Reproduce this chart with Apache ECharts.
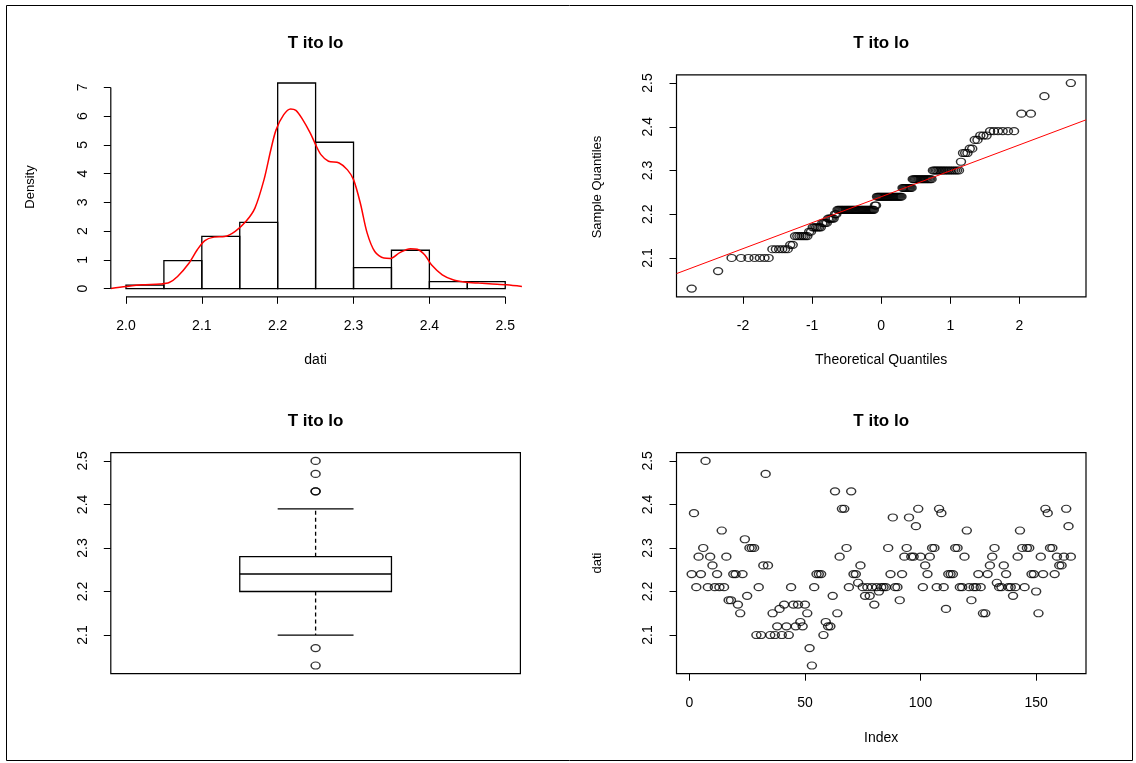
<!DOCTYPE html>
<html>
<head>
<meta charset="utf-8">
<script src="https://cdn.jsdelivr.net/npm/echarts@6/dist/echarts.min.js"></script>
<style>
  html, body { margin: 0; padding: 0; background: #fff; }
  #chart { width: 1136px; height: 763px; }
</style>
</head>
<body>
<div id="chart"></div>
<script>
// data (order = index 1..165)
var dati = [
  2.24, 2.38, 2.21, 2.28, 2.24, 2.30, 2.50, 2.21, 2.28, 2.26,
  2.21, 2.24, 2.21, 2.34, 2.21, 2.28, 2.18, 2.18, 2.24, 2.24,
  2.17, 2.15, 2.24, 2.32, 2.19, 2.30, 2.30, 2.30, 2.10, 2.21,
  2.10, 2.26, 2.47, 2.26, 2.10, 2.15, 2.10, 2.12, 2.16, 2.10,
  2.17, 2.12, 2.10, 2.21, 2.17, 2.12, 2.17, 2.13, 2.12, 2.17,
  2.15, 2.07, 2.03, 2.21, 2.24, 2.24, 2.24, 2.10, 2.13, 2.12,
  2.12, 2.19, 2.43, 2.15, 2.28, 2.39, 2.39, 2.30, 2.21, 2.43,
  2.24, 2.24, 2.22, 2.26, 2.21, 2.19, 2.21, 2.19, 2.21, 2.17,
  2.21, 2.20, 2.21, 2.21, 2.21, 2.30, 2.24, 2.37, 2.21, 2.21,
  2.18, 2.24, 2.28, 2.30, 2.37, 2.28, 2.28, 2.35, 2.39, 2.28,
  2.21, 2.26, 2.24, 2.28, 2.30, 2.30, 2.21, 2.39, 2.38, 2.21,
  2.16, 2.24, 2.24, 2.24, 2.30, 2.30, 2.21, 2.21, 2.28, 2.34,
  2.21, 2.18, 2.21, 2.21, 2.24, 2.21, 2.15, 2.15, 2.24, 2.26,
  2.28, 2.30, 2.22, 2.21, 2.21, 2.26, 2.24, 2.21, 2.21, 2.19,
  2.21, 2.28, 2.34, 2.30, 2.21, 2.30, 2.30, 2.24, 2.24, 2.20,
  2.15, 2.28, 2.24, 2.39, 2.38, 2.30, 2.30, 2.24, 2.28, 2.26,
  2.26, 2.28, 2.39, 2.35, 2.28
];

// histogram breaks
var histBreaks = [2.00, 2.05, 2.10, 2.15, 2.20, 2.25, 2.30, 2.35, 2.40, 2.45, 2.50];

// red density curve
var densX = [1.980, 2.000, 2.021, 2.045, 2.057, 2.068, 2.083, 2.094, 2.104, 2.116,
             2.130, 2.144, 2.158, 2.170, 2.182, 2.191, 2.198, 2.208, 2.217, 2.224,
             2.233, 2.243, 2.250, 2.257, 2.267, 2.281, 2.292, 2.300, 2.309, 2.318,
             2.328, 2.340, 2.349, 2.361, 2.375, 2.384, 2.394, 2.403, 2.417, 2.432,
             2.446, 2.465, 2.483, 2.502, 2.522];
var densY = [0.00, 0.07, 0.13, 0.16, 0.21, 0.42, 0.88, 1.35, 1.67, 1.79,
             1.81, 1.99, 2.33, 2.80, 3.79, 4.83, 5.53, 6.05, 6.25, 6.20,
             5.88, 5.41, 5.01, 4.66, 4.43, 4.37, 4.13, 3.79, 2.97, 1.93,
             1.29, 1.06, 1.05, 1.25, 1.39, 1.37, 1.17, 0.82, 0.48, 0.30,
             0.23, 0.19, 0.16, 0.13, 0.07];

// tick labels
var histXTicks = [2.0, 2.1, 2.2, 2.3, 2.4, 2.5];
var histYTicks = [0, 1, 2, 3, 4, 5, 6, 7];
var qqXTicks = [-2, -1, 0, 1, 2];
var datiTicks = [2.1, 2.2, 2.3, 2.4, 2.5];
var indexTicks = [0, 50, 100, 150];

var FONT = '"Liberation Sans", Arial, Helvetica, sans-serif';

// ---- helpers ---------------------------------------------------
function qnorm(p) {
  var a = [-3.969683028665376e+01, 2.209460984245205e+02, -2.759285104469687e+02,
           1.383577518672690e+02, -3.066479806614716e+01, 2.506628277459239e+00];
  var b = [-5.447609879822406e+01, 1.615858368580409e+02, -1.556989798598866e+02,
           6.680131188771972e+01, -1.328068155288572e+01];
  var c = [-7.784894002430293e-03, -3.223964580411365e-01, -2.400758277161838e+00,
           -2.549732539343734e+00, 4.374664141464968e+00, 2.938163982698783e+00];
  var d = [7.784695709041462e-03, 3.224671290700398e-01, 2.445134137142996e+00,
           3.754408661907416e+00];
  var plow = 0.02425, q, r;
  if (p < plow) {
    q = Math.sqrt(-2 * Math.log(p));
    return (((((c[0]*q+c[1])*q+c[2])*q+c[3])*q+c[4])*q+c[5]) /
           ((((d[0]*q+d[1])*q+d[2])*q+d[3])*q+1);
  }
  if (p > 1 - plow) {
    q = Math.sqrt(-2 * Math.log(1 - p));
    return -(((((c[0]*q+c[1])*q+c[2])*q+c[3])*q+c[4])*q+c[5]) /
            ((((d[0]*q+d[1])*q+d[2])*q+d[3])*q+1);
  }
  q = p - 0.5; r = q * q;
  return (((((a[0]*r+a[1])*r+a[2])*r+a[3])*r+a[4])*r+a[5])*q /
         (((((b[0]*r+b[1])*r+b[2])*r+b[3])*r+b[4])*r+1);
}

// R style quantile (type 7) on sorted data
function quant(s, p) {
  var h = (s.length - 1) * p, lo = Math.floor(h);
  return s[lo] + (h - lo) * ((s[Math.min(lo + 1, s.length - 1)]) - s[lo]);
}

var n = dati.length;
var sorted = dati.slice().sort(function (x, y) { return x - y; });

// histogram (right-closed bins, like hist())
var counts = histBreaks.slice(1).map(function () { return 0; });
dati.forEach(function (v) {
  var c = Math.round(v * 100);
  for (var k = 0; k < counts.length; k++) {
    var lo = Math.round(histBreaks[k] * 100), hi = Math.round(histBreaks[k + 1] * 100);
    if ((c > lo || (k === 0 && c === lo)) && c <= hi) { counts[k]++; break; }
  }
});
var binW = histBreaks[1] - histBreaks[0];
var histData = counts.map(function (cnt, k) {
  return [histBreaks[k], histBreaks[k + 1], cnt / (n * binW)];
});
var maxDens = Math.max.apply(null, histData.map(function (r) { return r[2]; }));

// axis limits with R's 4% extension
function ext(lo, hi) { var p = (hi - lo) * 0.04; return [lo - p, hi + p]; }
var hxLim = ext(histBreaks[0], histBreaks[histBreaks.length - 1]);
var hyLim = ext(0, maxDens);
var dLim = ext(sorted[0], sorted[n - 1]);
var iLim = ext(1, n);

// QQ
var qqData = sorted.map(function (v, i) { return [qnorm((i + 1 - 0.5) / n), v]; });
var qMax = Math.abs(qqData[0][0]);
var qLim = ext(-qMax, qMax);
var y1 = quant(sorted, 0.25), y3 = quant(sorted, 0.75);
var slope = (y3 - y1) / (qnorm(0.75) - qnorm(0.25));
var icpt = y1 - slope * qnorm(0.25);
var qqLine = [[qLim[0], icpt + slope * qLim[0]], [qLim[1], icpt + slope * qLim[1]]];

// boxplot stats (fivenum hinges, 1.5 IQR)
function fivenum(s) {
  var m = s.length, n4 = Math.floor((m + 3) / 2) / 2;
  var dd = [1, n4, (m + 1) / 2, m + 1 - n4, m];
  return dd.map(function (t) { return 0.5 * (s[Math.floor(t) - 1] + s[Math.ceil(t) - 1]); });
}
var fn = fivenum(sorted);
var iqr = fn[3] - fn[1];
var inside = sorted.filter(function (v) { return v >= fn[1] - 1.5 * iqr - 1e-9 && v <= fn[3] + 1.5 * iqr + 1e-9; });
var boxRow = [1, inside[0], fn[1], fn[2], fn[3], inside[inside.length - 1]];
var outliers = sorted.filter(function (v) { return inside.indexOf(v) < 0; }).map(function (v) { return [1, v]; });

var indexData = dati.map(function (v, i) { return [i + 1, v]; });

// ---- chart -----------------------------------------------------
function xAx(gi, lim, ticks, fmt) {
  return {
    type: 'value', gridIndex: gi, min: lim[0], max: lim[1], position: 'bottom',
    axisLine: { show: false, onZero: false },
    axisTick: { show: true, length: 7, customValues: ticks, lineStyle: { color: '#000', width: 1 } },
    axisLabel: { customValues: ticks, formatter: fmt, color: '#000', fontSize: 14, fontFamily: FONT, margin: 22 },
    splitLine: { show: false }
  };
}
function yAx(gi, lim, ticks, fmt) {
  return {
    type: 'value', gridIndex: gi, min: lim[0], max: lim[1], position: 'left',
    axisLine: { show: false, onZero: false },
    axisTick: { show: true, length: 7, customValues: ticks, lineStyle: { color: '#000', width: 1 } },
    axisLabel: { customValues: ticks, formatter: fmt, rotate: 90, color: '#000', fontSize: 14, fontFamily: FONT, margin: 21 },
    splitLine: { show: false }
  };
}
function f1(v) { return Number(v).toFixed(1); }
function f0(v) { return String(Math.round(v)); }

function label(text, x, y, opts) {
  opts = opts || {};
  return {
    type: 'text', x: x, y: y, rotation: opts.rot || 0, silent: true,
    style: {
      text: text, fill: '#000', fontFamily: FONT,
      fontSize: opts.size || 13, fontWeight: opts.bold ? 'bold' : 'normal',
      align: 'center', verticalAlign: 'middle', textAlign: 'center', textVerticalAlign: 'middle'
    }
  };
}

var circle = { color: 'rgba(0,0,0,0)', borderColor: '#000', borderWidth: 1.3 };
var box = { show: true, borderColor: '#000', borderWidth: 1.2, backgroundColor: 'transparent' };

var option = {
  animation: false,
  backgroundColor: '#fff',
  grid: [
    { left: 110.8, top: 74.8, width: 409.6, height: 222 },
    Object.assign({ left: 676.5, top: 74.8, width: 409.5, height: 222 }, box),
    Object.assign({ left: 110.8, top: 452.7, width: 409.6, height: 221 }, box),
    Object.assign({ left: 676.5, top: 452.7, width: 409.5, height: 221 }, box)
  ],
  xAxis: [
    xAx(0, hxLim, histXTicks, f1),
    xAx(1, qLim, qqXTicks, f0),
    { type: 'value', gridIndex: 2, min: 0.46, max: 1.54, show: false },
    xAx(3, iLim, indexTicks, f0)
  ],
  yAxis: [
    yAx(0, hyLim, histYTicks, f0),
    yAx(1, dLim, datiTicks, f1),
    yAx(2, dLim, datiTicks, f1),
    yAx(3, dLim, datiTicks, f1)
  ],
  graphic: [
    { type: 'rect', silent: true, shape: { x: 6.5, y: 5.5, width: 1126, height: 755 },
      style: { fill: 'none', stroke: '#000', lineWidth: 1 } },
    label('T ito lo', 315.6, 43, { bold: true, size: 17 }),
    label('T ito lo', 881.2, 43, { bold: true, size: 17 }),
    label('T ito lo', 315.6, 421, { bold: true, size: 17 }),
    label('T ito lo', 881.2, 421, { bold: true, size: 17 }),
    label('Density', 30, 187, { rot: Math.PI / 2 }),
    label('dati', 315.6, 360, { size: 14 }),
    label('Sample Quantiles', 597, 187, { rot: Math.PI / 2 }),
    label('Theoretical Quantiles', 881.2, 360, { size: 14 }),
    label('dati', 597, 563, { rot: Math.PI / 2 }),
    label('Index', 881.2, 738, { size: 14 })
  ],
  series: [
    {
      type: 'custom', xAxisIndex: 0, yAxisIndex: 0, data: histData, silent: true,
      renderItem: function (params, api) {
        var p0 = api.coord([api.value(0), api.value(2)]);
        var p1 = api.coord([api.value(1), 0]);
        return { type: 'rect', shape: { x: p0[0], y: p0[1], width: p1[0] - p0[0], height: p1[1] - p0[1] },
                 style: { fill: 'none', stroke: '#000', lineWidth: 1.3 } };
      }
    },
    {
      type: 'line', xAxisIndex: 0, yAxisIndex: 0, silent: true, showSymbol: false, smooth: 0.3,
      data: densX.map(function (x, i) { return [x, densY[i]]; }),
      lineStyle: { color: '#ff0000', width: 1.5 }
    },
    { // R-style axis lines of the histogram (span first..last tick)
      type: 'line', xAxisIndex: 0, yAxisIndex: 0, silent: true, showSymbol: false, clip: false,
      data: [[histXTicks[0], hyLim[0]], [histXTicks[histXTicks.length - 1], hyLim[0]]],
      lineStyle: { color: '#000', width: 1.2 }
    },
    {
      type: 'line', xAxisIndex: 0, yAxisIndex: 0, silent: true, showSymbol: false, clip: false,
      data: [[hxLim[0], histYTicks[0]], [hxLim[0], histYTicks[histYTicks.length - 1]]],
      lineStyle: { color: '#000', width: 1.2 }
    },
    {
      type: 'scatter', xAxisIndex: 1, yAxisIndex: 1, data: qqData, silent: true,
      symbol: 'circle', symbolSize: [9, 7], itemStyle: circle
    },
    {
      type: 'line', xAxisIndex: 1, yAxisIndex: 1, data: qqLine, silent: true, showSymbol: false,
      lineStyle: { color: '#ff0000', width: 1 }
    },
    {
      type: 'custom', xAxisIndex: 2, yAxisIndex: 2, data: [boxRow], silent: true,
      renderItem: function (params, api) {
        var x = api.value(0);
        var lo = api.value(1), q1 = api.value(2), md = api.value(3), q3 = api.value(4), hi = api.value(5);
        var tl = api.coord([x - 0.2, q3]), br = api.coord([x + 0.2, q1]);
        var cx = api.coord([x, md])[0];
        var cl = api.coord([x - 0.1, md])[0], cr = api.coord([x + 0.1, md])[0];
        var yy = function (v) { return api.coord([x, v])[1]; };
        var st = { stroke: '#000', lineWidth: 1.2, fill: 'none' };
        var dash = { stroke: '#000', lineWidth: 1.3, lineDash: [4, 3] };
        return { type: 'group', children: [
          { type: 'line', shape: { x1: cx, y1: yy(q3), x2: cx, y2: yy(hi) }, style: dash },
          { type: 'line', shape: { x1: cx, y1: yy(q1), x2: cx, y2: yy(lo) }, style: dash },
          { type: 'line', shape: { x1: cl, y1: yy(hi), x2: cr, y2: yy(hi) }, style: st },
          { type: 'line', shape: { x1: cl, y1: yy(lo), x2: cr, y2: yy(lo) }, style: st },
          { type: 'rect', shape: { x: tl[0], y: tl[1], width: br[0] - tl[0], height: br[1] - tl[1] },
            style: { stroke: '#000', lineWidth: 1.3, fill: '#fff' } },
          { type: 'line', shape: { x1: tl[0], y1: yy(md), x2: br[0], y2: yy(md) }, style: { stroke: '#000', lineWidth: 1.5 } }
        ] };
      }
    },
    {
      type: 'scatter', xAxisIndex: 2, yAxisIndex: 2, data: outliers, silent: true,
      symbol: 'circle', symbolSize: [9, 7], itemStyle: circle
    },
    {
      type: 'scatter', xAxisIndex: 3, yAxisIndex: 3, data: indexData, silent: true,
      symbol: 'circle', symbolSize: [9, 7], itemStyle: circle
    }
  ]
};

var myChart = echarts.init(document.getElementById('chart'));
myChart.setOption(option);
</script>
</body>
</html>
